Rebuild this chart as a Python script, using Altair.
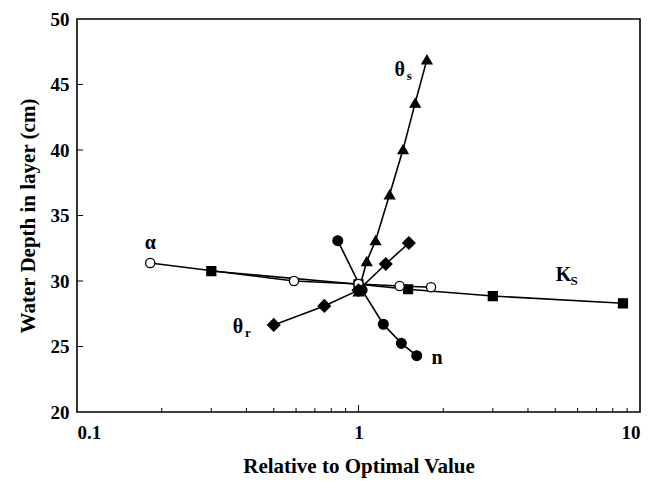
import altair as alt
import pandas as pd

# Sensitivity of simulated water depth to each soil-hydraulic parameter
theta_s_x = [1.0, 1.07, 1.15, 1.29, 1.44, 1.59, 1.75]
theta_s_y = [29.2, 31.5, 33.1, 36.6, 40.05, 43.6, 46.9]

ks_x = [0.30, 1.0, 1.5, 3.0, 8.7]
ks_y = [30.76, 29.75, 29.37, 28.85, 28.3]

alpha_x = [0.182, 0.59, 1.0, 1.40, 1.81]
alpha_y = [31.37, 30.0, 29.77, 29.62, 29.52]

theta_r_x = [0.50, 0.756, 1.0, 1.25, 1.51]
theta_r_y = [26.65, 28.1, 29.3, 31.3, 32.9]

n_x = [0.844, 1.03, 1.225, 1.42, 1.61]
n_y = [33.08, 29.3, 26.7, 25.24, 24.3]

series_names = ["θs", "Ks", "α", "θr", "n"]
series_shapes = ["triangle-up", "square", "circle", "diamond", "circle"]
series_fills = ["black", "black", "white", "black", "black"]
series_sizes = [100, 80, 85, 150, 95]

x_major_ticks = [0.1, 1, 10]
x_minor_ticks = [0.2, 0.3, 0.4, 0.5, 0.6, 0.7, 0.8, 0.9, 2, 3, 4, 5, 6, 7, 8, 9]
y_ticks = [20, 25, 30, 35, 40, 45, 50]

# In-plot parameter labels: main symbol, subscript
label_text = ["α", "θ", "K", "θ", "n"]
label_sub = ["", "s", "S", "r", ""]
label_x = [0.182, 1.40, 5.35, 0.373, 1.90]
label_y = [32.9, 46.1, 30.45, 26.5, 24.1]

FONT = "Liberation Serif"
W, H = 563, 393

rows = []
for name, xs, ys in [
    ("θs", theta_s_x, theta_s_y),
    ("Ks", ks_x, ks_y),
    ("α", alpha_x, alpha_y),
    ("θr", theta_r_x, theta_r_y),
    ("n", n_x, n_y),
]:
    for xv, yv in zip(xs, ys):
        rows.append({"series": name, "x": xv, "y": yv})
df = pd.DataFrame(rows)

labels = pd.DataFrame({"text": label_text, "sub": label_sub, "x": label_x, "y": label_y})

xscale = alt.Scale(type="log", domain=[0.1, 10], nice=False)
yscale = alt.Scale(domain=[20, 50], nice=False, zero=False)

xenc = alt.X(
    "x:Q",
    scale=xscale,
    axis=alt.Axis(
        values=x_major_ticks,
        format="~g",
        title="Relative to Optimal Value",
        ticks=False,
        domain=False,
        grid=False,
        labelPadding=11,
        titlePadding=13,
    ),
)
yenc = alt.Y(
    "y:Q",
    scale=yscale,
    axis=alt.Axis(
        values=y_ticks,
        title="Water Depth in layer (cm)",
        ticks=False,
        domain=False,
        grid=False,
        labelPadding=8,
        titlePadding=12,
    ),
)

base = alt.Chart(df)

lines = base.mark_line(color="black", strokeWidth=1.6).encode(
    x=xenc, y=yenc, detail="series:N", order="x:Q"
)

# one marker layer per parameter, each with its own symbol and size
point_layers = []
for name, shape, fill, size in zip(series_names, series_shapes, series_fills, series_sizes):
    point_layers.append(
        base.transform_filter(alt.datum.series == name)
        .mark_point(shape=shape, size=size, filled=True, fill=fill, stroke="black", strokeWidth=1.3, opacity=1)
        .encode(x=alt.X("x:Q", scale=xscale), y=alt.Y("y:Q", scale=yscale))
    )

minor = alt.Chart(pd.DataFrame({"t": x_minor_ticks})).mark_rule(color="black", strokeWidth=1).encode(
    x=alt.X("t:Q", scale=xscale), y=alt.value(H), y2=alt.value(H - 4)
)
major = alt.Chart(pd.DataFrame({"t": [1]})).mark_rule(color="black", strokeWidth=1).encode(
    x=alt.X("t:Q", scale=xscale), y=alt.value(H), y2=alt.value(H - 7)
)
yt = alt.Chart(pd.DataFrame({"t": y_ticks[1:-1]})).mark_rule(color="black", strokeWidth=1).encode(
    y=alt.Y("t:Q", scale=yscale), x=alt.value(0), x2=alt.value(6)
)

main_text = alt.Chart(labels).mark_text(
    font=FONT, fontSize=20, fontWeight="bold", color="black", align="center", baseline="middle"
).encode(x=alt.X("x:Q", scale=xscale), y=alt.Y("y:Q", scale=yscale), text="text:N")

sub_text = alt.Chart(labels).mark_text(
    font=FONT, fontSize=13, fontWeight="bold", color="black", align="left", baseline="middle", dx=7, dy=6
).encode(x=alt.X("x:Q", scale=xscale), y=alt.Y("y:Q", scale=yscale), text="sub:N")

chart = (
    alt.layer(lines, minor, major, yt, *point_layers, main_text, sub_text)
    .properties(
        width=W,
        height=H,
        autosize=alt.AutoSizeParams(type="none"),
        padding={"left": 77, "top": 19, "right": 21, "bottom": 69},
        background="white",
    )
    .configure_view(stroke="black", strokeWidth=1.6)
    .configure_axis(
        labelFont=FONT,
        labelFontSize=19,
        labelFontWeight="bold",
        labelColor="black",
        titleFont=FONT,
        titleFontSize=21,
        titleFontWeight="bold",
        titleColor="black",
    )
)

chart.save("out.html", embed_options={"renderer": "svg", "actions": False})
